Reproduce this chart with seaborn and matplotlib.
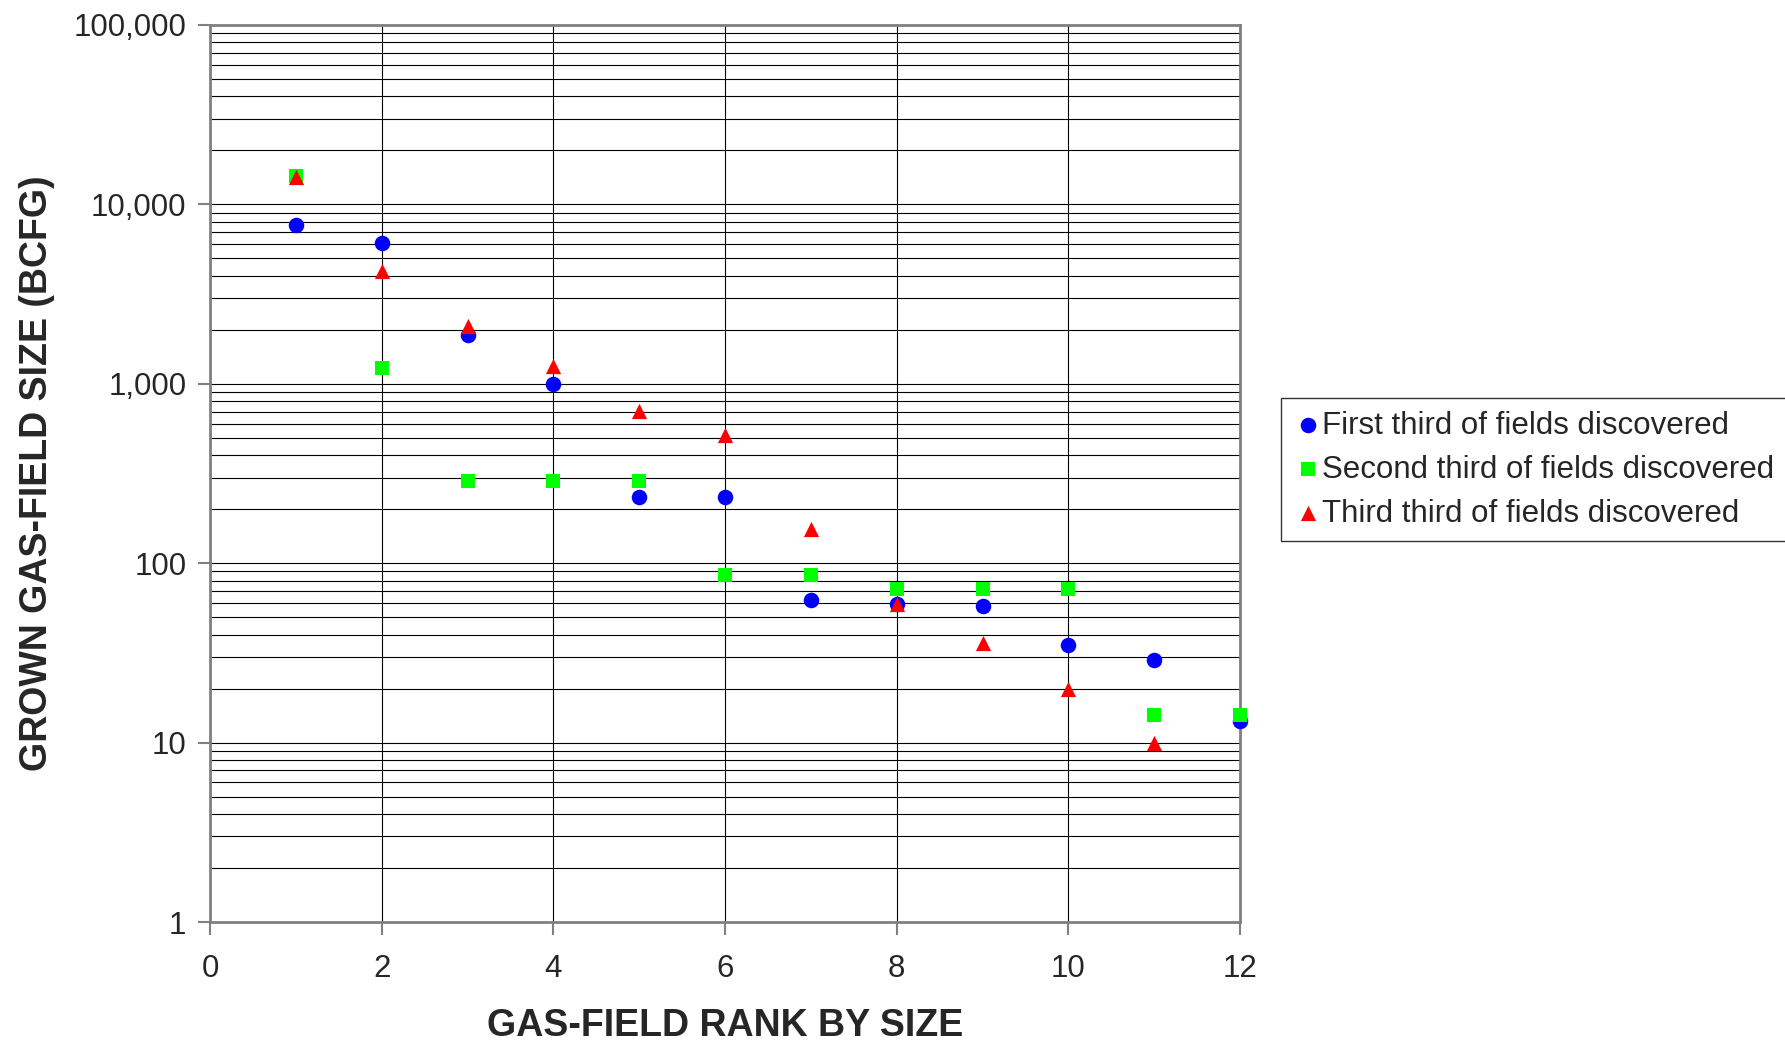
import numpy as np
import pandas as pd
import matplotlib
matplotlib.use("Agg")
import matplotlib.pyplot as plt
import seaborn as sns
from matplotlib.ticker import FixedLocator, LogLocator, NullFormatter, FuncFormatter

# ---- data ----
rank_first = [1, 2, 3, 4, 5, 6, 7, 8, 9, 10, 11, 12]
size_first = [7700, 6100, 1870, 1000, 233, 233, 62, 59, 58, 35, 29, 13.2]

rank_second = [1, 2, 3, 4, 5, 6, 7, 8, 9, 10, 11, 12]
size_second = [14400, 1230, 286, 286, 286, 86, 86, 72, 72, 72, 14.2, 14.2]

rank_third = [1, 2, 3, 4, 5, 6, 7, 8, 9, 10, 11]
size_third = [14200, 4280, 2110, 1260, 705, 518, 155, 59, 36, 20, 10]

series_names = ["First third of fields discovered",
                "Second third of fields discovered",
                "Third third of fields discovered"]
x_ticks = [0, 2, 4, 6, 8, 10, 12]
y_ticks = [1, 10, 100, 1000, 10000, 100000]

df = pd.concat([
    pd.DataFrame({"rank": rank_first, "size": size_first, "series": series_names[0]}),
    pd.DataFrame({"rank": rank_second, "size": size_second, "series": series_names[1]}),
    pd.DataFrame({"rank": rank_third, "size": size_third, "series": series_names[2]}),
], ignore_index=True)

sns.set_theme(style="white")
plt.rcParams["font.family"] = ["Liberation Sans", "DejaVu Sans"]

fig = plt.figure(figsize=(17.85, 10.44), dpi=100)
ax = fig.add_axes([210 / 1785, 1 - 922 / 1044, (1240 - 210) / 1785, (922 - 25) / 1044])

palette = {series_names[0]: "#0000FF", series_names[1]: "#00FF00", series_names[2]: "#FF0000"}
markers = {series_names[0]: "o", series_names[1]: "s", series_names[2]: "^"}
sizes_map = {series_names[0]: 125, series_names[1]: 110, series_names[2]: 120}

for name in series_names:
    sub = df[df["series"] == name]
    sns.scatterplot(data=sub, x="rank", y="size", color=palette[name], marker=markers[name],
                    s=sizes_map[name], linewidth=0, ax=ax, label=name, zorder=3, clip_on=False)

ax.set_yscale("log")
ax.set_ylim(1, 100000)
ax.set_xlim(0, 12)

ax.yaxis.set_major_locator(FixedLocator(y_ticks))
ax.yaxis.set_minor_locator(LogLocator(base=10, subs=np.arange(2, 10)))
ax.yaxis.set_minor_formatter(NullFormatter())
ax.yaxis.set_major_formatter(FuncFormatter(lambda v, p: f"{int(round(v)):,}"))
ax.xaxis.set_major_locator(FixedLocator(x_ticks))

ax.grid(True, which="major", axis="both", color="black", linewidth=0.8)
ax.grid(True, which="minor", axis="y", color="black", linewidth=0.8)
ax.set_axisbelow(True)

for sp in ax.spines.values():
    sp.set_visible(True)
    sp.set_color("#808080")
    sp.set_linewidth(2)

ax.tick_params(axis="both", which="major", direction="out", length=9, width=1.5,
               color="#808080", labelsize=22.5, left=True, bottom=True)
ax.tick_params(axis="y", which="major", pad=8)
ax.tick_params(axis="x", which="major", pad=14)
ax.tick_params(axis="y", which="minor", length=0)

ax.set_xlabel("GAS-FIELD RANK BY SIZE", fontsize=27, fontweight="bold", labelpad=17)
ax.set_ylabel("GROWN GAS-FIELD SIZE (BCFG)", fontsize=27, fontweight="bold", labelpad=13)

leg = ax.legend(loc="upper left", bbox_to_anchor=(1281 / 1785, 1 - 398 / 1044),
                bbox_transform=fig.transFigure, fontsize=22.5, frameon=True, fancybox=False,
                handletextpad=0.0, borderpad=0.4, borderaxespad=0, labelspacing=0.45,
                handlelength=0.9, markerscale=1.0)
leg.get_frame().set_edgecolor("black")
leg.get_frame().set_linewidth(1)

fig.savefig("out.png", dpi=100)
